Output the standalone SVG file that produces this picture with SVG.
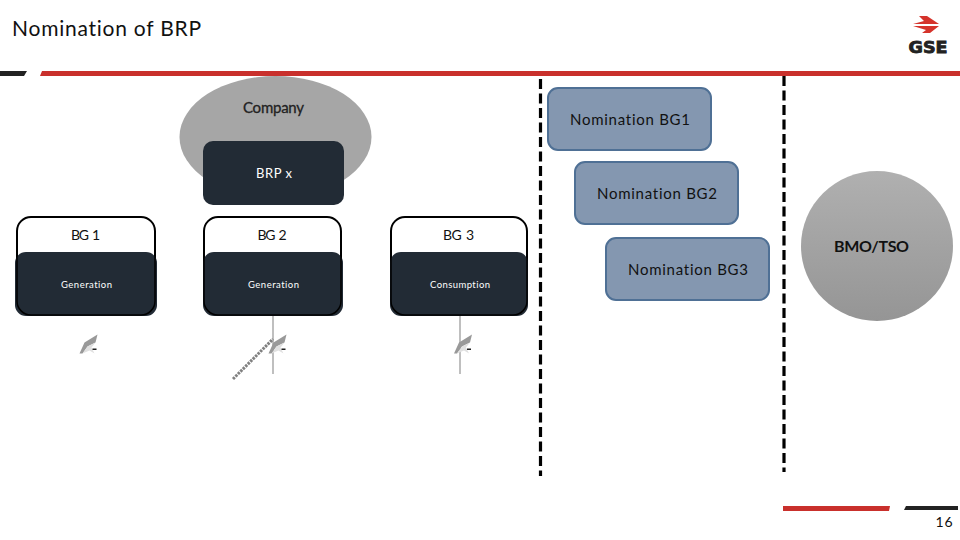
<svg xmlns="http://www.w3.org/2000/svg" width="960" height="540" viewBox="0 0 960 540">
<style>
text{font-family:Lato,"Open Sans",sans-serif;text-anchor:middle;font-variant-ligatures:none}
.dark{fill:#222b35}
.bgo{fill:#fff;stroke:#000;stroke-width:2}
.w{fill:#fff;font-size:13px}
.gen{fill:#fff;font-size:9.500px}
.bl{fill:#111;font-size:14px;word-spacing:2px}
.nom{fill:#8497b0;stroke:#4f7095;stroke-width:2}
.nt{fill:#111;font-size:15px}
.dash{fill:none;stroke:#000;stroke-width:3.200;stroke-dasharray:10 4.500}
.gray{fill:none;stroke:#bfbfbf;stroke-width:2}
.ic1{fill:#999}.ic2{fill:#e0e0e0}.ic3{fill:#222}
</style>
<defs>
<linearGradient id="g" x1="0" y1="0" x2="0" y2="1">
<stop offset="0" stop-color="#b0b0b0"/><stop offset="1" stop-color="#959595"/>
</linearGradient>
<g id="ic">
<path class="ic1" d="M0 19L5 8L18 0L16 8L8 12L3 19Z"/>
<path class="ic2" d="M3 19L8 12L16 8L12 13L15 19L10 16Z"/>
<rect class="ic3" x="13" y="14" width="4" height="1.500"/>
</g>
</defs>
<g id="header">
<text x="12" y="36" style="text-anchor:start;font-size:21px;fill:#111" textLength="189">Nomination of BRP</text>
<path d="M0 71H27L24 76H0Z" fill="#222"/>
<path d="M42 71H960V76H40Z" fill="#c9302c"/>
</g>
<g id="logo">
<path d="M919 16H927L939 24H913L924 21Z" fill="#d5332b"/>
<path d="M913 26H939L930 33H922L926 30Z" fill="#d5332b"/>
<text x="928" y="53" style="font-family:'DejaVu Sans',sans-serif;font-weight:bold;font-size:16px;fill:#222;stroke:#222;stroke-width:.8" textLength="39" lengthAdjust="spacingAndGlyphs">GSE</text>
</g>
<g id="connectors">
<path class="dash" d="M540.500 79V476"/>
<path class="dash" d="M784 76V472"/>
<path class="gray" d="M273 316V374"/>
<path class="gray" d="M460 316V374"/>
<path d="M233 379L273 339" fill="none" stroke="#808080" stroke-width="3" stroke-dasharray="2.500 1"/>
</g>
<g id="company"><ellipse cx="275.500" cy="137" rx="96" ry="61" fill="#a6a6a6"/><text x="273.500" y="113" style="font-size:15px;fill:#222;stroke:#222;stroke-width:.3" textLength="61">Company</text></g>
<g id="brp"><rect class="dark" x="203" y="141" width="141" height="64" rx="10"/><text class="w" x="274" y="178" textLength="36">BRP x</text></g>
<g id="bg1"><rect class="bgo" x="17" y="217" width="138" height="98" rx="14"/><rect class="dark" x="15" y="252" width="142" height="64" rx="11"/><path d="M17 254V301a14 14 0 0 0 14 14H141a14 14 0 0 0 14-14V254" fill="none" stroke="#000" stroke-width="1.500"/><text class="bl" x="85.500" y="240" textLength="29">BG 1</text><text class="gen" x="86.500" y="288" textLength="51">Generation</text></g>
<g id="bg2"><rect class="bgo" x="204" y="217" width="137" height="98" rx="14"/><rect class="dark" x="203" y="252" width="140" height="64" rx="11"/><path d="M204 254V301a14 14 0 0 0 14 14H327a14 14 0 0 0 14-14V254" fill="none" stroke="#000" stroke-width="1.500"/><text class="bl" x="272" y="240" textLength="29">BG 2</text><text class="gen" x="273.500" y="288" textLength="51">Generation</text></g>
<g id="bg3"><rect class="bgo" x="391" y="217" width="136" height="98" rx="14"/><rect class="dark" x="390" y="252" width="138" height="64" rx="11"/><path d="M391 254V301a14 14 0 0 0 14 14H513a14 14 0 0 0 14-14V254" fill="none" stroke="#000" stroke-width="1.500"/><text class="bl" x="458.500" y="240" textLength="31">BG 3</text><text class="gen" x="460" y="288" textLength="60">Consumption</text></g>
<g id="icon1"><use href="#ic" x="79.500" y="334.500"/></g>
<g id="icon2"><use href="#ic" x="268.500" y="334.500"/></g>
<g id="icon3"><use href="#ic" x="454" y="334.500"/></g>
<g id="nom1"><rect class="nom" x="548" y="88" width="163" height="62" rx="10"/><text class="nt" x="630" y="125" textLength="120">Nomination BG1</text></g>
<g id="nom2"><rect class="nom" x="575" y="162" width="163" height="62" rx="10"/><text class="nt" x="657" y="199" textLength="120">Nomination BG2</text></g>
<g id="nom3"><rect class="nom" x="606" y="238" width="163" height="62" rx="10"/><text class="nt" x="688" y="275" textLength="120">Nomination BG3</text></g>
<g id="bmo"><ellipse cx="877" cy="246" rx="76" ry="75" fill="url(#g)"/><text x="871.500" y="252" style="font-size:16px;font-weight:700;fill:#111" textLength="75">BMO/TSO</text></g>
<g id="footer">
<path d="M783 506H890L889 511H783Z" fill="#c9302c"/>
<path d="M906 506H958V510H904Z" fill="#222"/>
<text x="944" y="527" style="font-size:14px;fill:#111" textLength="17">16</text>
</g>
</svg>
